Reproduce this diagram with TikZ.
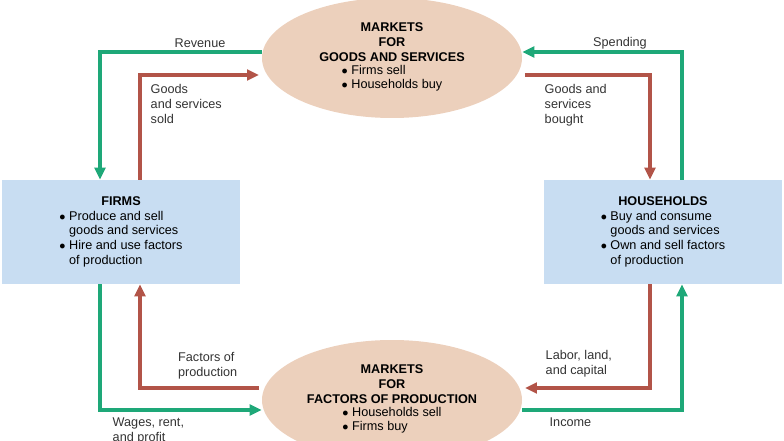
\documentclass[tikz,border=0pt]{standalone}
\usepackage{fontspec}
\setmainfont{Liberation Sans}
\usetikzlibrary{arrows.meta,shapes.geometric}
\definecolor{flowgreen}{RGB}{30,168,120}
\definecolor{flowred}{RGB}{178,84,72}
\definecolor{mktfill}{RGB}{236,208,188}
\definecolor{boxfill}{RGB}{200,221,242}
\tikzset{
  market/.style={ellipse,fill=mktfill,minimum width=195pt,minimum height=90pt,align=center,font=\fontsize{9.5}{11}\selectfont},
  agent/.style={rectangle,fill=boxfill,minimum width=178pt,minimum height=78pt,font=\fontsize{9.5}{11}\selectfont},
  green flow/.style={draw=flowgreen,line width=2.8pt,-{Triangle[length=9pt,width=8pt]}},
  red flow/.style={draw=flowred,line width=2.8pt,-{Triangle[length=9pt,width=8pt]}},
  lbl/.style={font=\fontsize{9.5}{11}\selectfont,align=left,text=black!80}
}
\begin{document}
\begin{tikzpicture}[x=0.75pt,y=-0.75pt]
  \useasboundingbox (0,0) rectangle (784,441);
  \clip (0,0) rectangle (784,441);
  % markets
  \node[market] (goods) at (392,58) {\textbf{MARKETS}\\\textbf{FOR}\\\textbf{GOODS AND SERVICES}\\[1pt]
    \begin{tabular}{@{}l@{}}$\bullet$ Firms sell\\$\bullet$ Households buy\end{tabular}};
  \node[market] (factors) at (392,400) {\textbf{MARKETS}\\\textbf{FOR}\\\textbf{FACTORS OF PRODUCTION}\\[1pt]
    \begin{tabular}{@{}l@{}}$\bullet$ Households sell\\$\bullet$ Firms buy\end{tabular}};
  % agents
  \node[agent] (firms) at (121,232) {\begin{tabular}{@{}l@{}}
    \multicolumn{1}{c}{\textbf{FIRMS}}\\
    $\bullet$ Produce and sell\\\phantom{$\bullet$ }goods and services\\
    $\bullet$ Hire and use factors\\\phantom{$\bullet$ }of production\end{tabular}};
  \node[agent] (house) at (663,232) {\begin{tabular}{@{}l@{}}
    \multicolumn{1}{c}{\textbf{HOUSEHOLDS}}\\
    $\bullet$ Buy and consume\\\phantom{$\bullet$ }goods and services\\
    $\bullet$ Own and sell factors\\\phantom{$\bullet$ }of production\end{tabular}};
  % corners
  \coordinate (g1) at (100,52);  \coordinate (g2) at (100,410);
  \coordinate (g3) at (682,410); \coordinate (g4) at (682,52);
  \coordinate (r1) at (140,75);  \coordinate (r2) at (650,75);
  \coordinate (r3) at (650,388); \coordinate (r4) at (140,388);
  % money flow
  \draw[green flow] (goods.west |- g1) -- (g1) -- (g1 |- firms.north);
  \draw[green flow] (g2 |- firms.south) -- (g2) -- (factors.west |- g2);
  \draw[green flow] (factors.east |- g3) -- (g3) -- (g3 |- house.south);
  \draw[green flow] (g4 |- house.north) -- (g4) -- (goods.east |- g4);
  % goods flow
  \draw[red flow] (r1 |- firms.north) -- (r1) -- ([xshift=-2pt]goods.west |- r1);
  \draw[red flow] ([xshift=2pt]goods.east |- r2) -- (r2) -- (r2 |- house.north);
  \draw[red flow] (r3 |- house.south) -- (r3) -- ([xshift=2pt]factors.east |- r3);
  \draw[red flow] ([xshift=-2pt]factors.west |- r4) -- (r4) -- (r4 |- firms.south);
  % labels
  \node[lbl] (lrev) at (200,43) {Revenue};
  \node[lbl] (lspend) at (620,43) {Spending};
  \node[lbl,anchor=north west] (lgs) at (146,80) {Goods\\and services\\sold};
  \node[lbl,anchor=north west] (lgb) at (540,80) {Goods and\\services\\bought};
  \node[lbl,anchor=south east] (lfac) at (242,384) {Factors of\\production};
  \node[lbl,anchor=south west] (llab) at (541,382) {Labor, land,\\and capital};
  \node[lbl,anchor=north west] (lwage) at (108,413) {Wages, rent,\\and profit};
  \node[lbl,anchor=north west] (linc) at (545,413) {Income};
\end{tikzpicture}
\end{document}
